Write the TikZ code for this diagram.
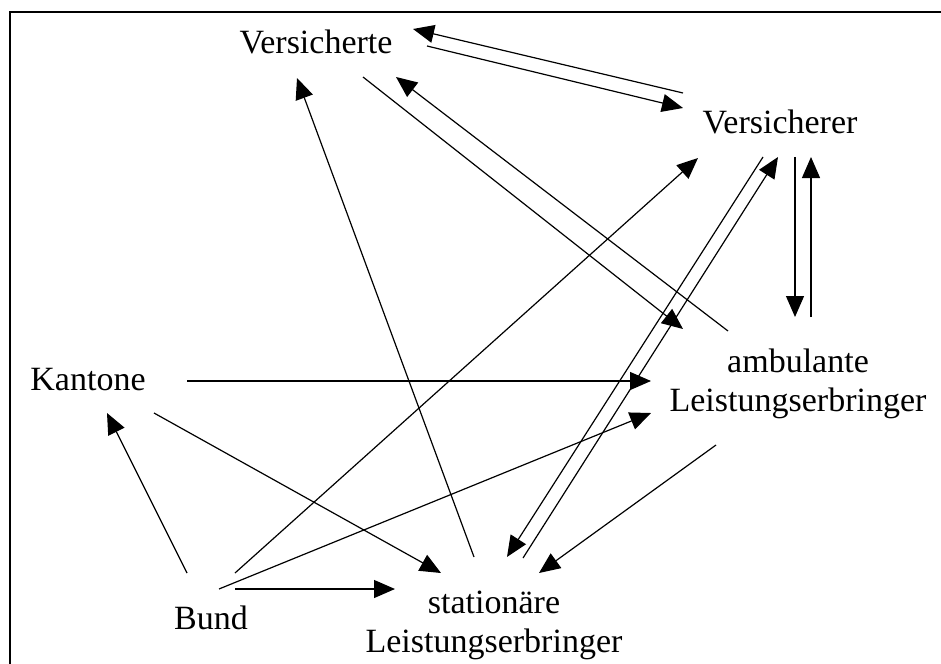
\documentclass[tikz,border=0pt]{standalone}
\usepackage{fontspec}
\setmainfont{Liberation Serif}
\usetikzlibrary{arrows.meta}
\begin{document}
\begin{tikzpicture}[x=1pt,y=-1pt,
  lbl/.style={inner sep=0pt, font=\fontsize{34}{39}\selectfont},
  flow/.style={line width=1.2pt, -{Triangle[length=21pt,width=18pt]}},
  frame/.style={line width=2pt}]
\useasboundingbox (0,0) rectangle (941,663);
% outer frame, running off the right and bottom edges
\begin{scope}
  \clip (0,0) rectangle (941,663);
  \draw[frame] (10,12) rectangle (960,680);
\end{scope}

% actors (two-line labels are placed by the baseline of their last line)
\node[lbl, anchor=base] (vte) at (316,54) {Versicherte};
\node[lbl, anchor=base] (ver) at (780,134) {Versicherer};
\node[lbl, anchor=base] (kan) at (88,390) {Kantone};
\node[lbl, anchor=base] (bund) at (211,629) {Bund};
\node[lbl, anchor=base, align=center] (amb) at (798,411) {ambulante\\Leistungserbringer};
\node[lbl, anchor=base, align=center] (sta) at (494,652) {stationäre\\Leistungserbringer};

% connector end points
\coordinate (vte-a) at (413,29);
\coordinate (vte-b) at (427,46);
\coordinate (vte-c) at (363,77);
\coordinate (vte-d) at (396,77);
\coordinate (vte-e) at (297,78);

\coordinate (ver-a) at (683,93);
\coordinate (ver-b) at (683,108);
\coordinate (ver-c) at (698,158);
\coordinate (ver-d) at (763,157);
\coordinate (ver-e) at (778,157);
\coordinate (ver-f) at (795,157);
\coordinate (ver-g) at (811,157);

\coordinate (kan-a) at (187,381);
\coordinate (kan-b) at (154,413);
\coordinate (kan-c) at (107,413);

\coordinate (amb-a) at (683,329);
\coordinate (amb-b) at (728,331);
\coordinate (amb-c) at (795,317);
\coordinate (amb-d) at (811,317);
\coordinate (amb-e) at (651,381);
\coordinate (amb-f) at (651,413);
\coordinate (amb-g) at (716,445);

\coordinate (bund-a) at (187,573);
\coordinate (bund-b) at (235,573);
\coordinate (bund-c) at (219,589);
\coordinate (bund-d) at (235,589);

\coordinate (sta-a) at (474,557);
\coordinate (sta-b) at (441,573);
\coordinate (sta-c) at (395,589);
\coordinate (sta-d) at (507,557);
\coordinate (sta-e) at (523,558);
\coordinate (sta-f) at (539,573);

% relations
\draw[flow] (ver-a) -- (vte-a);
\draw[flow] (vte-b) -- (ver-b);
\draw[flow] (vte-c) -- (amb-a);
\draw[flow] (amb-b) -- (vte-d);
\draw[flow] (sta-a) -- (vte-e);
\draw[flow] (bund-a) -- (kan-c);
\draw[flow] (kan-b) -- (sta-b);
\draw[flow] (kan-a) -- (amb-e);
\draw[flow] (bund-b) -- (ver-c);
\draw[flow] (bund-c) -- (amb-f);
\draw[flow] (bund-d) -- (sta-c);
\draw[flow] (ver-d) -- (sta-d);
\draw[flow] (sta-e) -- (ver-e);
\draw[flow] (ver-f) -- (amb-c);
\draw[flow] (amb-d) -- (ver-g);
\draw[flow] (amb-g) -- (sta-f);
\end{tikzpicture}
\end{document}
